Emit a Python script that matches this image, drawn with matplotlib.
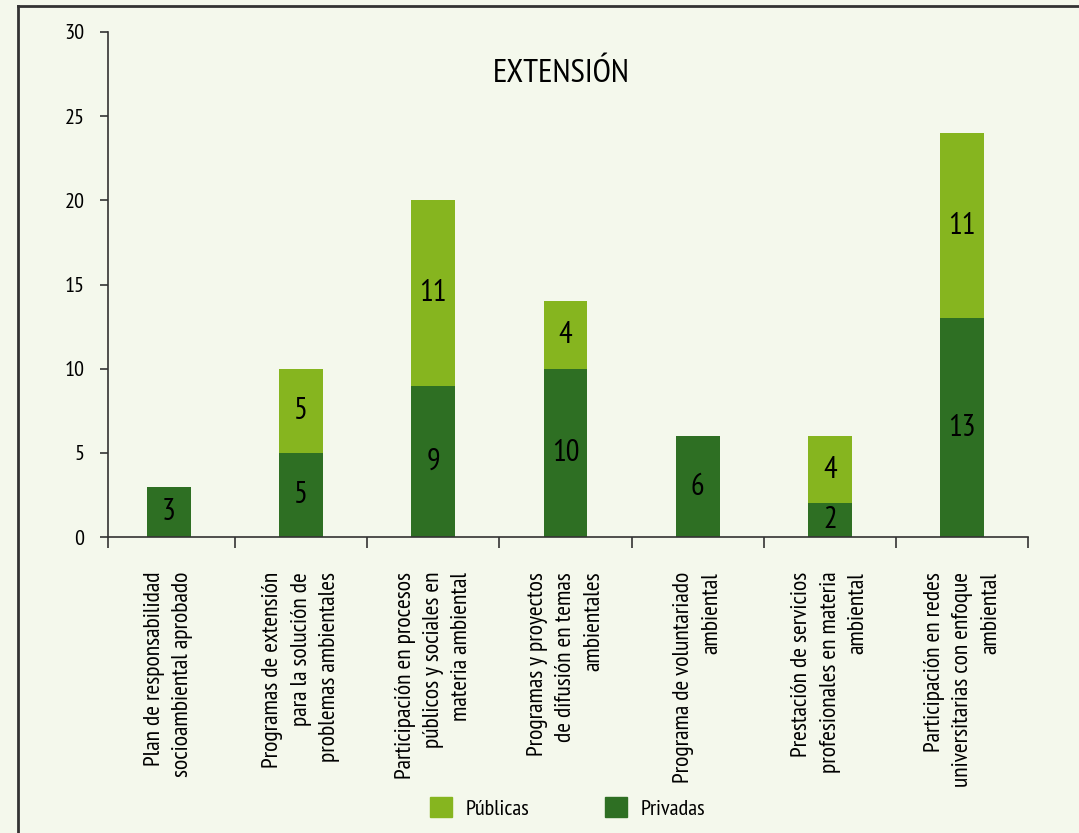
import numpy as np
import matplotlib
matplotlib.use('Agg')
import matplotlib.pyplot as plt
from matplotlib.patches import Patch
from matplotlib.lines import Line2D

plt.rcParams['font.family'] = ['PT Sans Narrow', 'Roboto Condensed', 'DejaVu Sans']

categorias = [
    'Plan de responsabilidad\nsocioambiental aprobado',
    'Programas de extensión\npara la solución de\nproblemas ambientales',
    'Participación en procesos\npúblicos y sociales en\nmateria ambiental',
    'Programas y proyectos\nde difusión en temas\nambientales',
    'Programa de voluntariado\nambiental',
    'Prestación de servicios\nprofesionales en materia\nambiental',
    'Participación en redes\nuniversitarias con enfoque\nambiental',
]
privadas = [3, 5, 9, 10, 6, 2, 13]
publicas = [0, 5, 11, 4, 0, 4, 11]
yticks = [0, 5, 10, 15, 20, 25, 30]

bg = '#f4f8ec'
c_pub = '#86b51f'
c_priv = '#2e6f23'
c_line = '#333333'


def main():
    fig = plt.figure(figsize=(10.79, 8.33), dpi=100, facecolor=bg)
    ax = fig.add_axes([0.1001, 0.3553, 0.853, 0.6063], facecolor=bg)

    x = np.arange(len(categorias))
    w = 0.33
    ax.bar(x, privadas, w, color=c_priv, label='Privadas')
    ax.bar(x, publicas, w, bottom=privadas, color=c_pub, label='Públicas')

    # valores dentro de cada tramo
    for i in x:
        if privadas[i] > 0:
            ax.text(i, privadas[i] / 2, str(privadas[i]), ha='center', va='center',
                    fontsize=22, color='black')
        if publicas[i] > 0:
            ax.text(i, privadas[i] + publicas[i] / 2, str(publicas[i]), ha='center',
                    va='center', fontsize=22, color='black')

    ax.set_ylim(0, 30)
    ax.set_xlim(-0.46, len(categorias) - 0.5)
    ax.set_yticks(yticks)
    ax.tick_params(axis='y', labelsize=16, length=6, width=1.2, color=c_line, pad=11)

    ax.set_xticks(x)
    ax.set_xticklabels(categorias, rotation=90, fontsize=17, va='top', ha='center')
    for lab in ax.get_xticklabels():
        lab.set_multialignment('right')
        lab.set_linespacing(1.45)
    ax.set_xticks([-0.46] + list(x + 0.5), minor=True)
    ax.tick_params(axis='x', which='major', length=0, pad=25)
    ax.tick_params(axis='x', which='minor', length=8, width=1.2, color=c_line)

    for s in ['top', 'right']:
        ax.spines[s].set_visible(False)
    for s in ['left', 'bottom']:
        ax.spines[s].set_color(c_line)
        ax.spines[s].set_linewidth(1.2)

    ax.text(0.492, 27.5, 'EXTENSIÓN', transform=ax.get_yaxis_transform(),
            ha='center', va='center', fontsize=24)

    handles = [Patch(color=c_pub, label='Públicas'), Patch(color=c_priv, label='Privadas')]
    fig.legend(handles=handles, loc='center', bbox_to_anchor=(0.526, 0.03), ncol=2,
               frameon=False, fontsize=16, handlelength=1.0, handleheight=1.0,
               handletextpad=0.6, columnspacing=3.4)

    # marco
    fig.add_artist(Line2D([0.017, 0.017], [0, 0.993], color=c_line, lw=2))
    fig.add_artist(Line2D([0.017, 1], [0.993, 0.993], color=c_line, lw=2))

    fig.savefig('out.png', dpi=100, facecolor=bg)


if __name__ == '__main__':
    main()
